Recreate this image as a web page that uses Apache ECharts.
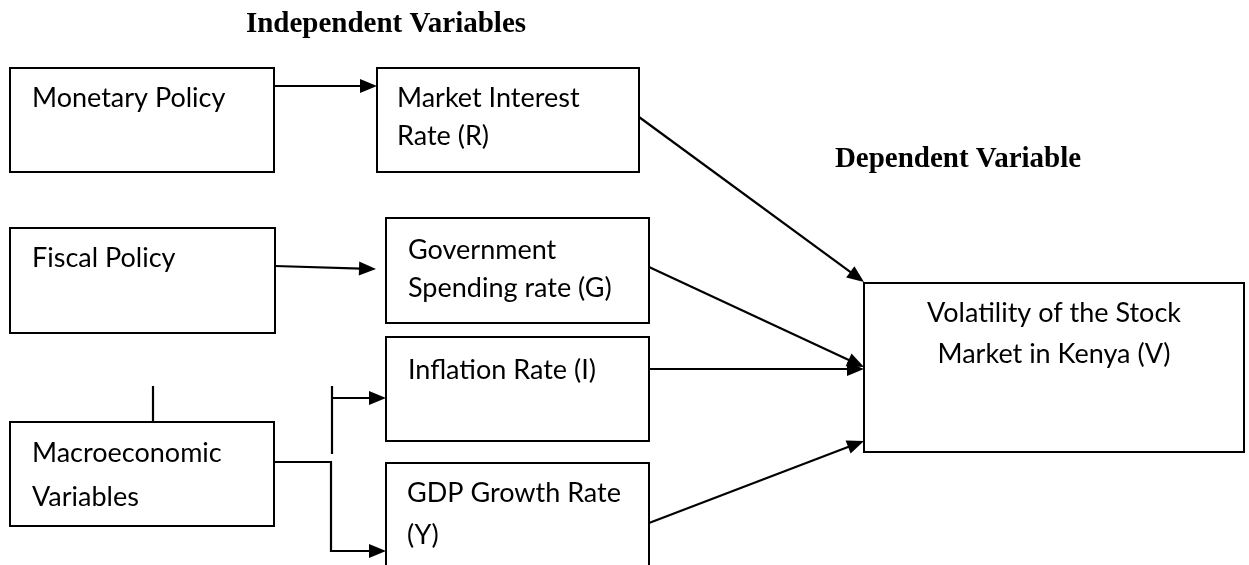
<!DOCTYPE html>
<html>
<head>
<meta charset="utf-8">
<script src="https://cdn.jsdelivr.net/npm/echarts@6/dist/echarts.min.js"></script>
<style>
html,body{margin:0;padding:0;background:#fff;}
#chart{width:1249px;height:565px;}
</style>
</head>
<body>
<div id="chart"></div>
<script>
// ---- diagram data ----
const boxNames = ['Monetary', 'Market', 'Fiscal', 'Government', 'Inflation', 'Macro', 'GDP', 'Volatility'];
// [left, top, right, bottom] in diagram units
const boxRects = [
  [10, 68, 274, 172],
  [377, 68, 639, 172],
  [10, 228, 275, 333],
  [386, 218, 649, 323],
  [386, 337, 649, 441],
  [10, 422, 274, 526],
  [386, 463, 649, 600],
  [864, 283, 1244, 452]
];
const boxTexts = [
  ['Monetary Policy'],
  ['Market Interest', 'Rate (R)'],
  ['Fiscal Policy'],
  ['Government', 'Spending rate (G)'],
  ['Inflation Rate (I)'],
  ['Macroeconomic', 'Variables'],
  ['GDP Growth Rate', '(Y)'],
  ['Volatility of the Stock', 'Market in Kenya (V)']
];
// [x, first line y]; centred boxes use box centre x
const textAnchor = [
  [32, 98], [397, 98], [32, 258], [408, 250], [408, 370], [32, 453], [407, 493], [1054, 313]
];
const textCentred = [false, false, false, false, false, false, false, true];
const lineGap = [0, 38, 0, 38, 0, 44, 42, 41];

const headings = ['Independent Variables', 'Dependent Variable'];
const headingPos = [[386, 25], [958, 160]];

// connectors: polylines, arrowhead at end where flagged
const connectors = [
  [[274, 86], [377, 86]],
  [[275, 266], [376, 269]],
  [[332, 398], [386, 398]],
  [[274, 462], [331, 462], [331, 551], [386, 551]],
  [[639, 117], [864, 282]],
  [[649, 267], [864, 367]],
  [[649, 369], [864, 369]],
  [[649, 523], [864, 441]],
  [[153, 386], [153, 422]],
  [[332, 386], [332, 454]]
];
const connectorArrow = [true, true, true, true, true, true, true, true, false, false];

const bodyFont = 'Lato, "Liberation Sans", sans-serif';
const headFont = '"Liberation Serif", "DejaVu Serif", serif';

const chart = echarts.init(document.getElementById('chart'), null, {renderer: 'canvas'});

function renderBox(params, api) {
  const i = params.dataIndex;
  const r = boxRects[i];
  const p0 = api.coord([r[0], r[1]]);
  const p1 = api.coord([r[2], r[3]]);
  const children = [{
    type: 'rect',
    shape: {x: p0[0], y: p0[1], width: p1[0] - p0[0], height: p1[1] - p0[1]},
    style: {fill: '#fff', stroke: '#000', lineWidth: 2}
  }];
  boxTexts[i].forEach((t, k) => {
    const a = api.coord([textAnchor[i][0], textAnchor[i][1] + k * lineGap[i]]);
    children.push({
      type: 'text',
      style: {
        text: t, x: a[0], y: a[1],
        fill: '#000', font: '27px ' + bodyFont,
        align: textCentred[i] ? 'center' : 'left',
        verticalAlign: 'middle'
      }
    });
  });
  return {type: 'group', children};
}

function renderConnector(params, api) {
  const i = params.dataIndex;
  const pts = connectors[i].map(p => api.coord(p));
  const children = [];
  const linePts = pts.slice();
  if (connectorArrow[i]) {
    const a = pts[pts.length - 2], b = pts[pts.length - 1];
    const dx = b[0] - a[0], dy = b[1] - a[1];
    const len = Math.sqrt(dx * dx + dy * dy);
    const ux = dx / len, uy = dy / len;
    const L = 17, hw = 7;
    const bx = b[0] - ux * L, by = b[1] - uy * L;
    linePts[linePts.length - 1] = [bx + ux * 2, by + uy * 2];
    children.push({
      type: 'polygon',
      shape: {points: [[b[0], b[1]], [bx - uy * hw, by + ux * hw], [bx + uy * hw, by - ux * hw]]},
      style: {fill: '#000'}
    });
  }
  children.unshift({
    type: 'polyline',
    shape: {points: linePts},
    style: {stroke: '#000', lineWidth: 2.2, fill: null}
  });
  return {type: 'group', children};
}

function renderHeading(params, api) {
  const i = params.dataIndex;
  const a = api.coord(headingPos[i]);
  return {
    type: 'text',
    style: {
      text: headings[i], x: a[0], y: a[1],
      fill: '#000', font: 'bold 29px ' + headFont,
      align: 'center', verticalAlign: 'middle'
    }
  };
}

chart.setOption({
  animation: false,
  backgroundColor: '#fff',
  grid: {left: 0, right: 0, top: 0, bottom: 0},
  xAxis: {type: 'value', min: 0, max: 1249, show: false},
  yAxis: {type: 'value', min: 0, max: 565, inverse: true, show: false},
  series: [
    {type: 'custom', name: 'connectors', clip: false, renderItem: renderConnector,
     data: connectors.map(c => [c[0][0], c[0][1]]), z: 1},
    {type: 'custom', name: 'boxes', clip: false, renderItem: renderBox,
     data: boxNames.map((n, i) => ({name: n, value: [boxRects[i][0], boxRects[i][1]]})), z: 2},
    {type: 'custom', name: 'headings', clip: false, renderItem: renderHeading,
     data: headings.map((h, i) => ({name: h, value: headingPos[i]})), z: 3}
  ]
});
</script>
</body>
</html>
